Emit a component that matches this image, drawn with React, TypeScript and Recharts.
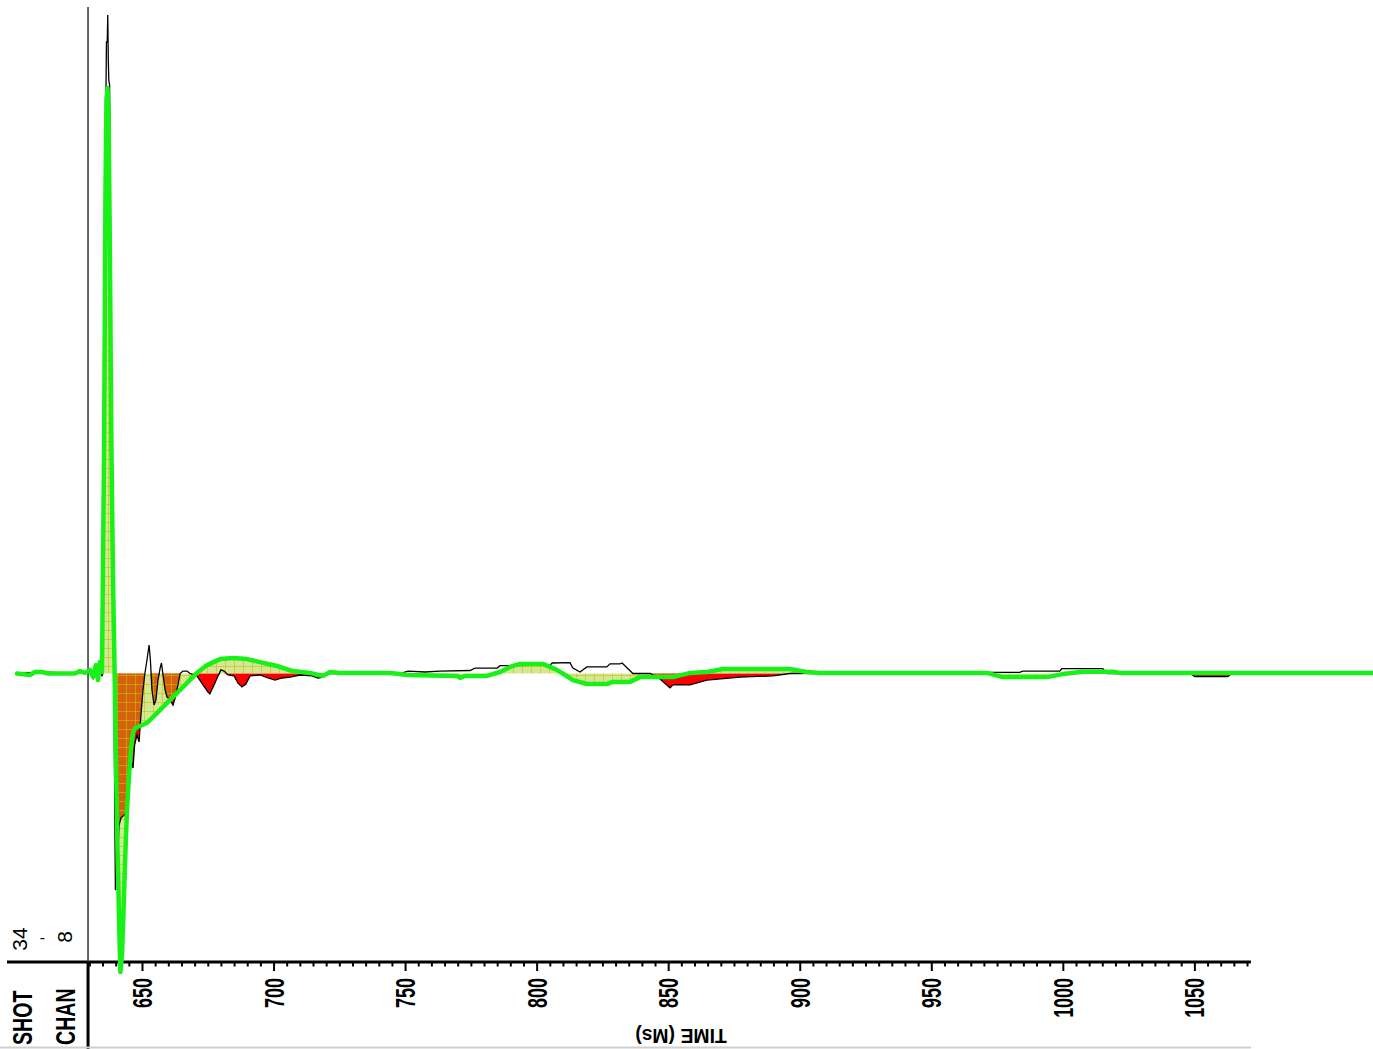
import React from 'react';
import { ComposedChart, Line, Area, XAxis, YAxis, ReferenceLine } from 'recharts';

// Raw (black) trace: [time ms, amplitude]
const blackTrace: [number, number][] = [
  [602.3, 0], [611.8, 0.25], [624.3, 0], [628.1, 0.25], [630.0, 0.75], [631.2, -0.75], [632.3, 1.6],
  [633.1, -1.25], [633.8, 2.25], [634.6, -0.5], [635.4, 28.9], [635.9, 87.25], [636.3, 105.25],
  [636.6, 105.25], [636.8, 109.75], [637.0, 102.25], [637.2, 98.9], [637.5, 98.1], [638.0, 62.25],
  [638.6, 20.6], [639.1, 0], [639.3, -12.75], [639.7, -36.1], [640.3, -32.75], [641.1, -25.25],
  [641.8, -24.1], [643.0, -23.6], [644.1, -23.1], [644.9, -19.4], [645.6, -14.4], [646.4, -15.75],
  [647.0, -11.9], [647.9, -10.25], [648.7, -11.4], [649.4, -6.9], [650.2, -2.75], [650.9, 0],
  [651.7, 2.25], [652.5, 4.75], [653.0, 2.25], [653.6, -2.75], [654.4, -5.25], [655.1, -4.4],
  [655.9, -1.1], [656.7, 0.9], [657.2, 1.75], [657.8, -0.25], [658.6, -2.75], [659.3, -3.9],
  [660.5, -4.4], [661.6, -5.25], [662.4, -4.1], [663.5, -1.9], [664.3, 0], [665.4, 0.4], [666.9, 0.4],
  [668.1, 0], [670.7, -0.4], [673.0, -1.9], [674.9, -3.1], [675.6, -3.4], [677.2, -1.9], [678.7, -0.4],
  [679.8, 0.6], [681.0, 0.4], [682.5, -0.25], [684.8, -0.4], [686.3, -1.6], [687.8, -2.25],
  [689.3, -1.75], [690.9, -0.4], [694.7, -0.25], [697.7, -0.75], [700.4, -1.1], [703.0, -0.75],
  [706.1, -0.6], [709.9, -0.25], [714.4, -0.4], [716.7, -0.75], [718.6, -0.6], [721.3, 0], [747.9, 0],
  [750.9, 0.4], [757.4, 0.25], [763.1, 0.4], [774.5, 0.5], [776.4, 0.9], [784.8, 0.9], [785.9, 1.3],
  [804.9, 1.4], [805.7, 1.75], [812.5, 1.8], [813.6, 0.9], [816.3, 0.25], [818.9, 1.1], [826.5, 1.1],
  [827.7, 1.6], [831.5, 1.6], [832.3, 1.75], [836.4, 0], [842.9, 0], [846.7, -0.9], [850.5, -2.4],
  [851.6, -1.9], [858.1, -1.9], [864.5, -1.1], [877.1, -0.6], [889.6, -0.4], [896.1, 0], [970.9, 0.2],
  [983.4, 0.2], [984.6, 0.4], [998.6, 0.4], [999.4, 0.8], [1015.0, 0.8], [1016.5, 0], [1048.1, 0],
  [1050.0, -0.5], [1062.5, -0.5], [1064.0, 0], [1117.6, 0],
];

// Fitted (green) trace: [time ms, amplitude]
const greenTrace: [number, number][] = [
  [602.3, 0], [607.2, -0.25], [609.1, 0.25], [611.8, 0.25], [614.1, 0], [624.3, 0], [626.2, 0.4],
  [628.1, 0.1], [630.0, 0.6], [631.2, -0.6], [632.3, 1.4], [633.1, -1.1], [633.8, 1.9], [634.6, 0.25],
  [635.4, 37.25], [635.9, 78.9], [636.3, 95.6], [636.7, 97.6], [637.1, 93.9], [637.6, 70.6],
  [638.2, 37.25], [638.8, 15.6], [639.4, 0], [639.9, -14.4], [640.5, -29.4], [641.1, -41.1],
  [641.6, -49.75], [642.2, -46.9], [642.8, -39.4], [643.4, -31.1], [644.1, -22.75], [644.9, -16.9],
  [645.6, -12.75], [646.4, -9.9], [647.2, -9.1], [649.0, -8.75], [651.7, -8.25], [655.5, -6.6],
  [660.5, -4.4], [665.4, -2.25], [670.7, 0.1], [674.5, 1.4], [679.5, 2.4], [684.4, 2.6], [689.7, 2.4],
  [694.7, 1.9], [701.1, 1.25], [707.2, 0.4], [713.7, 0.1], [716.7, -0.25], [718.6, -0.4], [721.3, 0.25],
  [725.1, 0.1], [744.1, 0.1], [750.9, -0.25], [769.5, -0.4], [770.7, -0.75], [772.6, -0.4],
  [780.9, -0.4], [785.9, 0.25], [789.7, 1.1], [793.5, 1.6], [802.2, 1.6], [807.5, 0.6], [810.6, -0.25],
  [813.6, -1.1], [818.9, -1.75], [826.5, -1.75], [828.8, -1.4], [835.3, -1.4], [839.1, -0.6],
  [851.6, -0.6], [858.1, 0.1], [864.5, 0.25], [870.6, 0.75], [896.1, 0.75], [902.5, 0.25], [907.5, 0.1],
  [970.9, 0.1], [977.0, -0.6], [993.7, -0.6], [999.8, -0.1], [1007.4, 0.3], [1018.8, 0.3],
  [1021.4, 0.1], [1117.6, 0.1],
];

const majorTicks: number[] = [650, 700, 750, 800, 850, 900, 950, 1000, 1050];
const minorTickStart = 630;
const minorTickEnd = 1070;
const minorTickStep = 5;
const axisTitle = 'TIME (Ms)';
const headerWords: string[] = ['SHOT', 'CHAN'];
const headerValues: string[] = ['34', '-', '8'];
// visible plot window (time covers the whole trace; axis ruler stops at axisEndTime)
const timeDomain: [number, number] = [598.5, 1117.7];
const axisEndTime = 1071.3;
const ampDomain: [number, number] = [-50, 112.25];
const axisAmp = -48.08; // amplitude level where the time ruler is drawn
const pageBottomAmp = -62.6;
const startMarkerTime = 629.3;
const startMarkerTopAmp = 111.1;
const AXIS_DROP = 11.5; // ruler sits this far above the bottom of the plotting window

const allTicks: number[] = [];
for (let t = minorTickStart; t <= minorTickEnd; t += minorTickStep) allTicks.push(t);

type Row = { t: number; k?: number; neg?: number; g?: number };
function buildRows(): Row[] {
  const map = new Map<number, Row>();
  for (const [t, v] of blackTrace) {
    const r = map.get(t) ?? { t };
    r.k = v;
    r.neg = Math.min(v, 0);
    map.set(t, r);
  }
  for (const [t, v] of greenTrace) {
    const r = map.get(t) ?? { t };
    r.g = v;
    map.set(t, r);
  }
  return [...map.values()].sort((a, b) => a.t - b.t);
}
const rows = buildRows();

const FONT = "'Liberation Sans', Arial, sans-serif";

const TimeTick = (props: any) => {
  const { x, payload } = props;
  const y = props.y - AXIS_DROP;
  const v = payload.value as number;
  const major = majorTicks.includes(v);
  return (
    <g>
      <line x1={x} y1={y} x2={x} y2={y + (major ? 9 : 4.5)} stroke="#000" strokeWidth={2} />
      {major && (
        <text
          transform={`translate(${x},${y + 16}) rotate(-90) scale(0.64,1)`}
          textAnchor="end"
          dominantBaseline="central"
          fontFamily={FONT}
          fontWeight={700}
          fontSize={28}
          fill="#000"
        >
          {v}
        </text>
      )}
    </g>
  );
};

const AxisExtras = () => (
  <g>
    <defs>
      <pattern id="greenHatch" patternUnits="userSpaceOnUse" width={9} height={9}>
        <rect x={0} y={0} width={9} height={9} fill="rgb(165,205,30)" fillOpacity={0.47} />
        <path d="M0 0.5H9M0.5 0V9" stroke="rgb(195,195,0)" strokeOpacity={0.6} strokeWidth={1} fill="none" />
      </pattern>
    </defs>
    <line x1={0} y1={1047.5} x2={1251} y2={1047.5} stroke="#cfcfcf" strokeWidth={2} />
    <text
      transform="translate(681,1036) rotate(180) scale(0.97,1)"
      textAnchor="middle"
      dominantBaseline="central"
      fontFamily={FONT}
      fontWeight={700}
      fontSize={20}
      fill="#000"
    >
      {axisTitle}
    </text>
    <text transform="translate(22,1045) rotate(-90) scale(0.7,1)" textAnchor="start" dominantBaseline="central"
      fontFamily={FONT} fontWeight={700} fontSize={28} fill="#000">{headerWords[0]}</text>
    <text transform="translate(65,1045) rotate(-90) scale(0.7,1)" textAnchor="start" dominantBaseline="central"
      fontFamily={FONT} fontWeight={700} fontSize={28} fill="#000">{headerWords[1]}</text>
    <text transform="translate(19.5,939) rotate(-90)" textAnchor="middle" dominantBaseline="central"
      fontFamily={FONT} fontWeight={400} fontSize={21} fill="#000">{headerValues[0]}</text>
    <text x={42.5} y={937} textAnchor="middle" dominantBaseline="central"
      fontFamily={FONT} fontWeight={400} fontSize={16} fill="#000">{headerValues[1]}</text>
    <text transform="translate(64.5,937) rotate(-90)" textAnchor="middle" dominantBaseline="central"
      fontFamily={FONT} fontWeight={400} fontSize={21} fill="#000">{headerValues[2]}</text>
  </g>
);

export default function App() {
  return (
    <div style={{ position: 'absolute', left: 0, top: 0, width: 1373, height: 1049, background: '#fff' }}>
      <ComposedChart
        width={1373}
        height={1049}
        data={rows}
        margin={{ top: 0, right: 0, bottom: 0, left: 7 }}
      >
        <XAxis
          dataKey="t"
          type="number"
          domain={timeDomain}
          ticks={allTicks}
          interval={0}
          tick={(p: any) => <TimeTick {...p} />}
          tickLine={false}
          tickSize={0}
          tickMargin={0}
          height={75.5}
          axisLine={false}
          label={() => <AxisExtras />}
        />
        <YAxis hide type="number" domain={ampDomain} />
        <Area
          type="linear"
          dataKey="neg"
          baseValue={0}
          stroke="none"
          fill="#ff0000"
          fillOpacity={1}
          connectNulls
          isAnimationActive={false}
          dot={false}
          activeDot={false}
        />
        <Area
          type="linear"
          dataKey="g"
          baseValue={0}
          stroke="none"
          fill="url(#greenHatch)"
          fillOpacity={1}
          connectNulls
          isAnimationActive={false}
          dot={false}
          activeDot={false}
        />
        <ReferenceLine
          segment={[{ x: timeDomain[0], y: axisAmp }, { x: axisEndTime, y: axisAmp }]}
          stroke="#000"
          strokeWidth={3}
          ifOverflow="visible"
        />
        <ReferenceLine
          segment={[{ x: startMarkerTime, y: startMarkerTopAmp }, { x: startMarkerTime, y: axisAmp }]}
          stroke="#333"
          strokeWidth={1.5}
          ifOverflow="visible"
        />
        <ReferenceLine
          segment={[{ x: startMarkerTime, y: axisAmp }, { x: startMarkerTime, y: pageBottomAmp }]}
          stroke="#000"
          strokeWidth={3}
          ifOverflow="visible"
        />
        <Line
          type="linear"
          dataKey="k"
          stroke="#000"
          strokeWidth={1.3}
          dot={false}
          activeDot={false}
          connectNulls
          isAnimationActive={false}
        />
        <Line
          type="linear"
          dataKey="g"
          stroke="#18f018"
          strokeWidth={4.5}
          strokeLinejoin="round"
          strokeLinecap="round"
          dot={false}
          activeDot={false}
          connectNulls
          isAnimationActive={false}
        />
      </ComposedChart>
    </div>
  );
}
